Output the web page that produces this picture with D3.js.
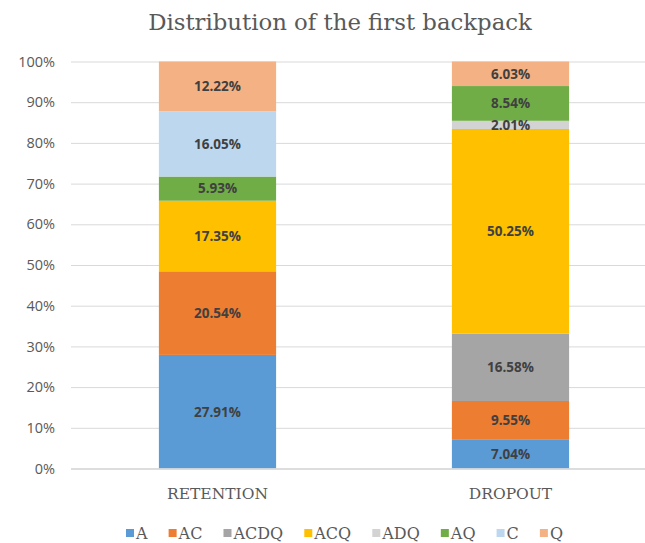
<!DOCTYPE html>
<html><head><meta charset="utf-8">
<script src="https://cdn.jsdelivr.net/npm/d3@7"></script>
<style>body{margin:0;background:#fff}svg{display:block}</style>
</head><body><svg id="c" width="645" height="543"></svg>
<script>
const categories = ["RETENTION", "DROPOUT"];
const seriesNames = ["A", "AC", "ACDQ", "ACQ", "ADQ", "AQ", "C", "Q"];
const seriesColors = ["#5B9BD5", "#ED7D31", "#A5A5A5", "#FFC000", "#D3D3D3", "#70AD47", "#BDD7EE", "#F4B183"];
const retention = [27.91, 20.54, 0, 17.35, 0, 5.93, 16.05, 12.22];
const dropout = [7.04, 9.55, 16.58, 50.25, 2.01, 8.54, 0, 6.03];
const yTicks = [0, 10, 20, 30, 40, 50, 60, 70, 80, 90, 100];
const title = "Distribution of the first backpack";

(function () {
const svg = d3.select("#c");
const serif = "'DejaVu Serif', serif";
const pL = 71, pR = 657, pT = 61.5, pB = 468.5;
const x = d3.scaleBand().domain(categories).range([pL, pR]).paddingInner(0.6).paddingOuter(0.3);
const y = d3.scaleLinear().domain([0, 100]).range([pB, pT]);

const rows = categories.map((c, i) => {
  const vals = i === 0 ? retention : dropout;
  const o = {cat: c};
  seriesNames.forEach((s, j) => o[s] = vals[j]);
  return o;
});
const stack = d3.stack().keys(seriesNames)(rows);

const t = svg.append("text").attr("x", 340).attr("y", 30).attr("text-anchor", "middle")
  .attr("font-family", serif).attr("font-size", 21).attr("fill", "#595959")
  .text(title);
const tw = t.node().getComputedTextLength();
t.attr("font-size", Math.min(23, 21 * 384 / tw));

const yAxis = d3.axisLeft(y).tickValues(yTicks).tickSize(-(pR - pL)).tickFormat(d => d + "%");
const ga = svg.append("g").attr("transform", `translate(${pL},0)`).call(yAxis);
ga.select(".domain").remove();
ga.selectAll(".tick line").attr("stroke", "#D9D9D9").attr("stroke-width", 1);
ga.selectAll(".tick text").attr("x", -16).attr("fill", "#595959")
  .attr("font-family", "'Open Sans', sans-serif").attr("font-size", 14.5);

const color = d3.scaleOrdinal().domain(seriesNames).range(seriesColors);
const layers = svg.append("g").selectAll("g").data(stack).join("g").attr("fill", d => color(d.key));
layers.selectAll("rect").data(d => d).join("rect")
  .attr("x", d => x(d.data.cat)).attr("width", x.bandwidth())
  .attr("y", d => y(d[1])).attr("height", d => y(d[0]) - y(d[1]));

const lab = svg.append("g");
stack.forEach(layer => {
  layer.forEach(d => {
    const v = d[1] - d[0];
    if (v <= 0) return;
    lab.append("text").attr("x", x(d.data.cat) + x.bandwidth() / 2)
      .attr("y", (y(d[0]) + y(d[1])) / 2).attr("dy", "0.36em").attr("text-anchor", "middle")
      .attr("font-family", "'Open Sans', sans-serif").attr("font-weight", "bold").attr("font-size", 13.5)
      .attr("fill", "#404040").text(d3.format(".2f")(v) + "%");
  });
});

svg.append("line").attr("x1", pL).attr("x2", pR).attr("y1", pB + 0.5).attr("y2", pB + 0.5)
  .attr("stroke", "#D9D9D9").attr("stroke-width", 1.5);
const xa = svg.append("g").attr("transform", `translate(0,${pB})`).call(d3.axisBottom(x).tickSize(0));
xa.select(".domain").remove();
xa.selectAll(".tick text").attr("y", 30).attr("dy", null).attr("fill", "#595959")
  .attr("font-family", serif).attr("font-size", 15.5);

// legend laid out from measured text widths between x=126 and x=563
const leg = svg.append("g");
const items = seriesNames.map((s, i) => {
  const g = leg.append("g");
  g.append("rect").attr("x", 0).attr("y", -4).attr("width", 8).attr("height", 8).attr("fill", seriesColors[i]);
  const tx = g.append("text").attr("x", 10).attr("y", 0).attr("dy", "0.36em").attr("fill", "#595959")
    .attr("font-family", serif).attr("font-size", 16).text(s);
  return {g, w: 10 + tx.node().getComputedTextLength()};
});
const legL = 126, legR = 563;
const gap = (legR - legL - d3.sum(items, d => d.w)) / (items.length - 1);
let cx = legL;
items.forEach(it => { it.g.attr("transform", `translate(${cx},533)`); cx += it.w + gap; });
})();
</script></body></html>
